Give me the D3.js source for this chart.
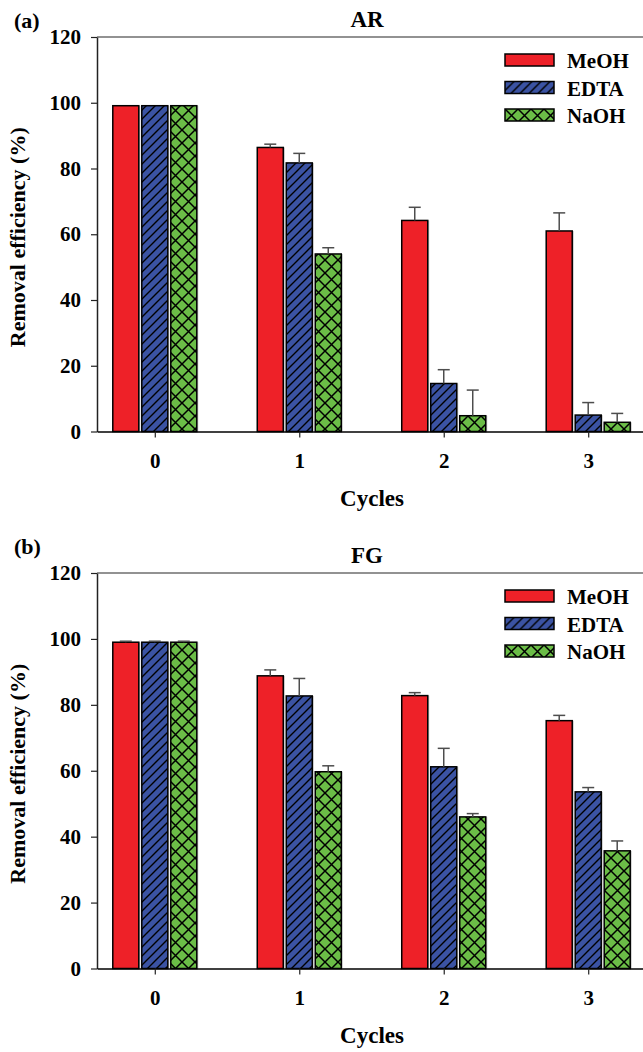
<!DOCTYPE html>
<html>
<head>
<meta charset="utf-8">
<script src="https://cdn.jsdelivr.net/npm/d3@7"></script>
<style>
  html, body { margin: 0; padding: 0; background: #fff; }
  svg { display: block; }
  text { font-family: "Liberation Serif", "Times New Roman", serif; font-weight: bold; fill: #000; }
</style>
</head>
<body>
<div id="chart"></div>
<script>
// categories
const cycles = ["0", "1", "2", "3"];
const series = ["MeOH", "EDTA", "NaOH"];
const yTicks = [0, 20, 40, 60, 80, 100, 120];

// (a) AR
const arMeOH = [99.1, 86.4, 64.2, 61.0];
const arMeOHErr = [0, 1.0, 4.0, 5.5];
const arEDTA = [99.1, 81.7, 14.6, 5.0];
const arEDTAErr = [0, 2.9, 4.2, 3.8];
const arNaOH = [99.1, 54.0, 4.8, 2.8];
const arNaOHErr = [0, 1.9, 7.8, 2.7];

// (b) FG
const fgMeOH = [99.0, 88.8, 82.8, 75.2];
const fgMeOHErr = [0.3, 1.8, 0.9, 1.6];
const fgEDTA = [99.0, 82.7, 61.2, 53.6];
const fgEDTAErr = [0.3, 5.3, 5.6, 1.3];
const fgNaOH = [99.0, 59.7, 46.0, 35.7];
const fgNaOHErr = [0.3, 1.8, 1.0, 3.0];

const width = 643, height = 1052;
const left = 97, right = 646;

const svg = d3.select("#chart").append("svg")
  .attr("width", width)
  .attr("height", height);

// fills: plain red, blue with "/" hatch, green cross hatch
const defs = svg.append("defs");
const hatch = defs.append("pattern")
  .attr("id", "hatch")
  .attr("patternUnits", "userSpaceOnUse")
  .attr("width", 9).attr("height", 9);
hatch.append("rect").attr("width", 9).attr("height", 9).attr("fill", "#3b53a3");
hatch.append("path")
  .attr("d", "M0,9L9,0M-2,2L2,-2M7,11L11,7")
  .attr("stroke", "#000").attr("stroke-width", 1.4);

const cross = defs.append("pattern")
  .attr("id", "cross")
  .attr("patternUnits", "userSpaceOnUse")
  .attr("width", 13).attr("height", 13);
cross.append("rect").attr("width", 13).attr("height", 13).attr("fill", "#6bbd47");
cross.append("path")
  .attr("d", "M0,0L13,13M13,0L0,13")
  .attr("stroke", "#000").attr("stroke-width", 1.5);

const fills = { MeOH: "#ee2128", EDTA: "url(#hatch)", NaOH: "url(#cross)" };

function drawPanel(tag, title, top, bottom, values, errors) {
  const g = svg.append("g");

  const x = d3.scalePoint().domain(cycles).range([left, right]).padding(0.4);
  const xs = d3.scaleBand().domain(series).range([-42, 42]).paddingInner(0.103);
  const y = d3.scaleLinear().domain([0, 120]).range([bottom, top]);

  // rows of bar data
  const rows = [];
  series.forEach((s, si) => {
    cycles.forEach((c, ci) => {
      rows.push({ s, c, v: values[si][ci], e: errors[si][ci] });
    });
  });

  // top frame line
  g.append("line")
    .attr("x1", left).attr("x2", width)
    .attr("y1", y(120)).attr("y2", y(120))
    .attr("stroke", "#6e6e6e").attr("stroke-width", 1.6);

  // bar shadows (light grey edge)
  g.selectAll(".shadow")
    .data(rows)
    .enter().append("rect")
    .attr("x", (d) => x(d.c) + xs(d.s) + 1.5)
    .attr("y", (d) => y(d.v))
    .attr("width", xs.bandwidth())
    .attr("height", (d) => y(0) - y(d.v))
    .attr("fill", "#c4c4c4");

  g.selectAll(".bar")
    .data(rows)
    .enter().append("rect")
    .attr("x", (d) => x(d.c) + xs(d.s))
    .attr("y", (d) => y(d.v))
    .attr("width", xs.bandwidth())
    .attr("height", (d) => y(0) - y(d.v))
    .attr("fill", (d) => fills[d.s])
    .attr("stroke", "#000")
    .attr("stroke-width", 1.5);

  // upper error bars
  const eb = g.selectAll(".err")
    .data(rows.filter((d) => d.e > 0))
    .enter().append("g")
    .attr("stroke", "#4d4d4d")
    .attr("stroke-width", 1.5);
  eb.append("line")
    .attr("x1", (d) => x(d.c) + xs(d.s) + xs.bandwidth() / 2)
    .attr("x2", (d) => x(d.c) + xs(d.s) + xs.bandwidth() / 2)
    .attr("y1", (d) => y(d.v))
    .attr("y2", (d) => y(d.v + d.e));
  eb.append("line")
    .attr("x1", (d) => x(d.c) + xs(d.s) + xs.bandwidth() / 2 - 6)
    .attr("x2", (d) => x(d.c) + xs(d.s) + xs.bandwidth() / 2 + 6)
    .attr("y1", (d) => y(d.v + d.e))
    .attr("y2", (d) => y(d.v + d.e));

  // axes
  const yAxis = g.append("g")
    .attr("transform", `translate(${left},0)`)
    .call(d3.axisLeft(y).tickValues(yTicks).tickSize(6).tickSizeOuter(0).tickPadding(10));
  yAxis.select(".domain").attr("stroke", "#222").attr("stroke-width", 1.5);
  yAxis.selectAll(".tick line").attr("stroke", "#222").attr("stroke-width", 1.2);
  yAxis.selectAll("text")
    .attr("font-size", 21).attr("font-family", "Liberation Serif").attr("font-weight", "bold").attr("fill", "#000");

  const xAxis = g.append("g")
    .attr("transform", `translate(0,${bottom})`)
    .call(d3.axisBottom(x).tickSize(6).tickSizeOuter(0).tickPadding(16));
  xAxis.select(".domain").attr("stroke", "#000").attr("stroke-width", 1.6);
  xAxis.selectAll(".tick line").attr("stroke", "#222").attr("stroke-width", 1.2);
  xAxis.selectAll("text")
    .attr("font-size", 21).attr("font-family", "Liberation Serif").attr("font-weight", "bold").attr("fill", "#000");

  // labels
  g.append("text")
    .attr("x", 14).attr("y", top - 9 + (tag === "(b)" ? -10 : 0))
    .attr("font-size", 22)
    .text(tag);
  g.append("text")
    .attr("x", 367).attr("y", top - 10)
    .attr("text-anchor", "middle")
    .attr("font-size", 23)
    .text(title);
  g.append("text")
    .attr("x", 372).attr("y", bottom + 74)
    .attr("text-anchor", "middle")
    .attr("font-size", 23)
    .text("Cycles");
  g.append("text")
    .attr("transform", `translate(25,${(top + bottom) / 2 + 3}) rotate(-90)`)
    .attr("text-anchor", "middle")
    .attr("font-size", 22)
    .text("Removal efficiency (%)");

  // legend
  const lg = g.selectAll(".legend")
    .data(series)
    .enter().append("g")
    .attr("transform", (d, i) => `translate(505,${top + 17 + i * 27.5})`);
  lg.append("rect")
    .attr("width", 49).attr("height", 12)
    .attr("fill", (d) => fills[d])
    .attr("stroke", "#000").attr("stroke-width", 1.5);
  lg.append("text")
    .attr("x", 62).attr("y", 14)
    .attr("font-size", 21)
    .text((d) => d);
}

drawPanel("(a)", "AR", 37, 431.5,
  [arMeOH, arEDTA, arNaOH], [arMeOHErr, arEDTAErr, arNaOHErr]);
drawPanel("(b)", "FG", 573, 968.5,
  [fgMeOH, fgEDTA, fgNaOH], [fgMeOHErr, fgEDTAErr, fgNaOHErr]);
</script>
</body>
</html>
